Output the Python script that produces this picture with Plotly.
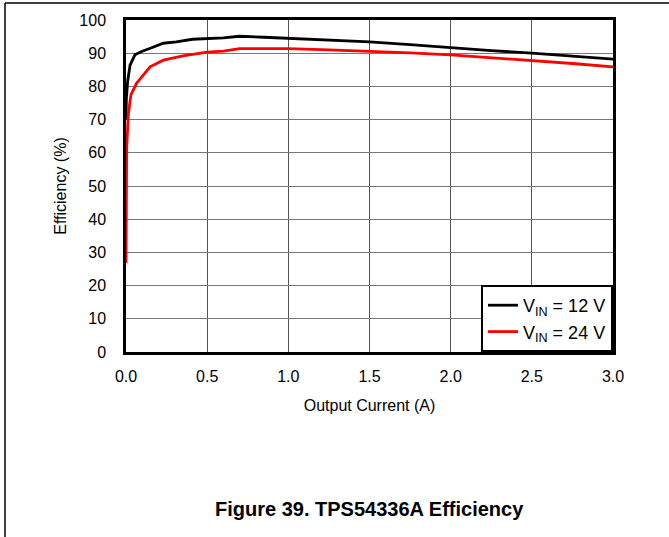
import plotly.graph_objects as go

# Data
i_12v = [0.0, 0.002, 0.01, 0.025, 0.055, 0.1, 0.15, 0.23, 0.31, 0.41, 0.6, 0.7, 0.85, 1.0,
         1.25, 1.5, 1.75, 2.0, 2.25, 2.5, 2.75, 3.0]
eff_12v = [70, 76, 81.4, 86.4, 89.5, 90.6, 91.5, 93.0, 93.4, 94.2, 94.6, 95.1, 94.8, 94.5,
           94.0, 93.4, 92.6, 91.6, 90.8, 90.0, 89.1, 88.2]

i_24v = [0.0, 0.002, 0.004, 0.014, 0.03, 0.055, 0.066, 0.086, 0.148, 0.23, 0.35, 0.5, 0.6,
         0.7, 1.0, 1.25, 1.5, 1.75, 2.0, 2.25, 2.5, 2.75, 3.0]
eff_24v = [26.7, 50, 61.4, 71.4, 77.4, 79.9, 81.0, 82.2, 85.9, 87.9, 89.2, 90.3, 90.6,
           91.4, 91.4, 91.0, 90.6, 90.1, 89.5, 88.7, 87.8, 86.9, 85.9]

x_ticks = [0.0, 0.5, 1.0, 1.5, 2.0, 2.5, 3.0]
x_tick_labels = ["0.0", "0.5", "1.0", "1.5", "2.0", "2.5", "3.0"]
y_ticks = [0, 10, 20, 30, 40, 50, 60, 70, 80, 90, 100]

FONT = "Liberation Sans, Arial, sans-serif"

fig = go.Figure()
fig.add_trace(go.Scatter(x=i_12v, y=eff_12v, mode="lines", name="V<sub>IN</sub> = 12 V",
                         line=dict(color="black", width=2.8)))
fig.add_trace(go.Scatter(x=i_24v, y=eff_24v, mode="lines", name="V<sub>IN</sub> = 24 V",
                         line=dict(color="#ff0000", width=2.8)))

fig.update_layout(
    width=669, height=537,
    margin=dict(l=126, r=56, t=20, b=185),
    paper_bgcolor="white", plot_bgcolor="white",
    font=dict(family=FONT, color="black", size=16),
    legend=dict(x=1, y=0, xanchor="right", yanchor="bottom",
                bordercolor="black", borderwidth=2, bgcolor="white",
                font=dict(size=18), tracegroupgap=0, itemwidth=30),
    xaxis=dict(range=[0, 3], tickvals=x_ticks, ticktext=x_tick_labels,
               showgrid=True, gridcolor="#555555", gridwidth=1,
               showline=True, linecolor="black", linewidth=2.5, mirror=True,
               ticks="", ticklabelstandoff=8, zeroline=False,
               title=dict(text="Output Current (A)", font=dict(size=16), standoff=16)),
    yaxis=dict(range=[0, 100], tickvals=y_ticks,
               showgrid=True, gridcolor="#777777", gridwidth=1,
               showline=True, linecolor="black", linewidth=2.5, mirror=True,
               ticks="", ticklabelstandoff=14, zeroline=False,
               title=dict(text="Efficiency (%)", font=dict(size=16), standoff=9)),
    showlegend=True,
)

# Caption
fig.add_annotation(text="<b>Figure 39. TPS54336A Efficiency</b>", xref="paper", yref="paper",
                   x=0.501, y=-0.473, showarrow=False, font=dict(size=20, family=FONT),
                   xanchor="center", yanchor="middle")

# Page frame lines (top and left)
fig.add_shape(type="line", xref="paper", yref="paper",
              x0=(5 - 126) / 487, x1=(669 - 126) / 487, y0=(352 - 3) / 332, y1=(352 - 3) / 332,
              line=dict(color="black", width=1.5))
fig.add_shape(type="line", xref="paper", yref="paper",
              x0=(5 - 126) / 487, x1=(5 - 126) / 487, y0=(352 - 3) / 332, y1=(352 - 540) / 332,
              line=dict(color="black", width=1.5))

fig.write_html("out.html", config={"displayModeBar": False},
               post_script="document.body.style.margin='0';")
